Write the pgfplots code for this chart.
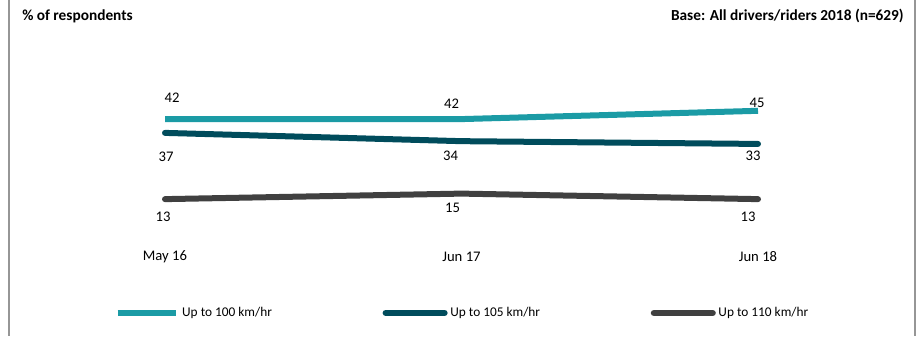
\documentclass[border=0pt]{standalone}
\usepackage{pgfplots}
\pgfplotsset{compat=1.18}
\usepackage{fontspec}
\setmainfont{Carlito}
\definecolor{cteal}{RGB}{27,155,165}
\definecolor{cdark}{RGB}{0,76,92}
\definecolor{cgray}{RGB}{64,64,64}
\definecolor{cframe}{RGB}{150,150,150}
\begin{document}
\begin{tikzpicture}
\useasboundingbox (0,0) rectangle (691.5pt,-252pt);
\draw[cframe, line width=1.2pt] (6.75pt,0) -- (6.75pt,-252pt);
\draw[cframe, line width=1.2pt] (686.25pt,0) -- (686.25pt,-252pt);
\node[anchor=west, font=\fontsize{11.5}{13}\selectfont\bfseries, inner sep=0pt] at (16.5pt,-12pt) {\% of respondents};
\node[anchor=east, font=\fontsize{11.5}{13}\selectfont\bfseries, inner sep=0pt] at (678pt,-12pt) {Base: All drivers/riders 2018 (n=629)};
\begin{axis}[
  at={(123.75pt,-176.25pt)}, anchor=origin,
  scale only axis, width=444.75pt, height=103.5pt,
  xmin=0, xmax=2, ymin=0, ymax=50,
  clip=false, enlargelimits=false,
  axis line style={draw=none}, tick style={draw=none},
  major tick length=0pt,
  ytick=\empty,
  xtick={0,1,2}, xticklabels={May 16, Jun 17, Jun 18},
  xticklabel style={font=\fontsize{11}{13}\selectfont, anchor=center, yshift=-16.5pt},
  /pgf/number format/assume math mode=true,
  nodes near coords={\pgfmathprintnumber[assume math mode=true]{\pgfplotspointmeta}},
  point meta=explicit,
  visualization depends on={\thisrow{dx} \as \dx},
  visualization depends on={\thisrow{dy} \as \dy},
  every node near coord/.append style={font=\fontsize{11}{13}\selectfont, color=black, anchor=center, xshift=\dx pt, yshift=\dy pt},
  legend columns=3,
  legend style={draw=none, at={(0.502,-0.565)}, anchor=center, font=\fontsize{10}{12}\selectfont,
    /tikz/every even column/.append style={column sep=81pt}, inner xsep=1pt},
  legend image code/.code={\draw[#1, line width=4.8pt] (0pt,0pt) -- (44pt,0pt);},
]
\addplot[cteal, line width=4.5pt, line cap=butt] table[x=x, y=y, meta=y] {
x y dx dy
0 42 5.25 15.75
1 42 -7.5 11.25
2 45 -0.75 6
};
\addlegendentry{Up to 100 km/hr}
\addplot[cdark, line width=4.5pt, line cap=round] table[x=x, y=y, meta=y] {
x y dx dy
0 37 0.75 -18
1 34 -8.25 -11.25
2 33 -3.75 -9
};
\addlegendentry{Up to 105 km/hr}
\addplot[cgray, line width=4.5pt, line cap=round] table[x=x, y=y, meta=y] {
x y dx dy
0 13 -1.5 -13.5
1 15 -6.75 -10.5
2 13 -7.5 -13.5
};
\addlegendentry{Up to 110 km/hr}
\end{axis}
\end{tikzpicture}
\end{document}
